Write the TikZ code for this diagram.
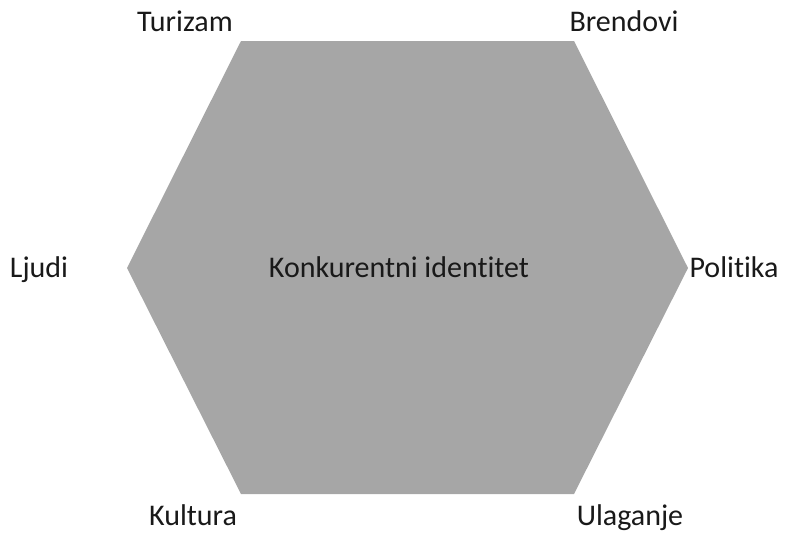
\documentclass[tikz,border=0pt]{standalone}
\usepackage{fontspec}
\setmainfont[Ligatures={NoCommon}]{Carlito}
\definecolor{hexgray}{HTML}{A6A6A6}
\begin{document}
\begin{tikzpicture}[x=1pt,y=-1pt,
  lbl/.style={anchor=base,inner sep=0pt,font=\fontsize{30}{36}\selectfont,text=black!90}]
\useasboundingbox (0,0) rectangle (797,533);
\coordinate (tl) at (241,41);
\coordinate (tr) at (574,41);
\coordinate (r) at (688,268);
\coordinate (br) at (574,494);
\coordinate (bl) at (241,494);
\coordinate (l) at (127,268);
\fill[hexgray] (tl) -- (tr) -- (r) -- (br) -- (bl) -- (l) -- cycle;
\node[lbl] (center) at (399,277) {Konkurentni identitet};
\node[lbl] (tur) at (185,31) {Turizam};
\node[lbl] (bre) at (624,31) {Brendovi};
\node[lbl] (lju) at (39,277) {Ljudi};
\node[lbl] (pol) at (734,277) {Politika};
\node[lbl] (kul) at (193,525) {Kultura};
\node[lbl] (ula) at (630,525) {Ulaganje};
\end{tikzpicture}
\end{document}
